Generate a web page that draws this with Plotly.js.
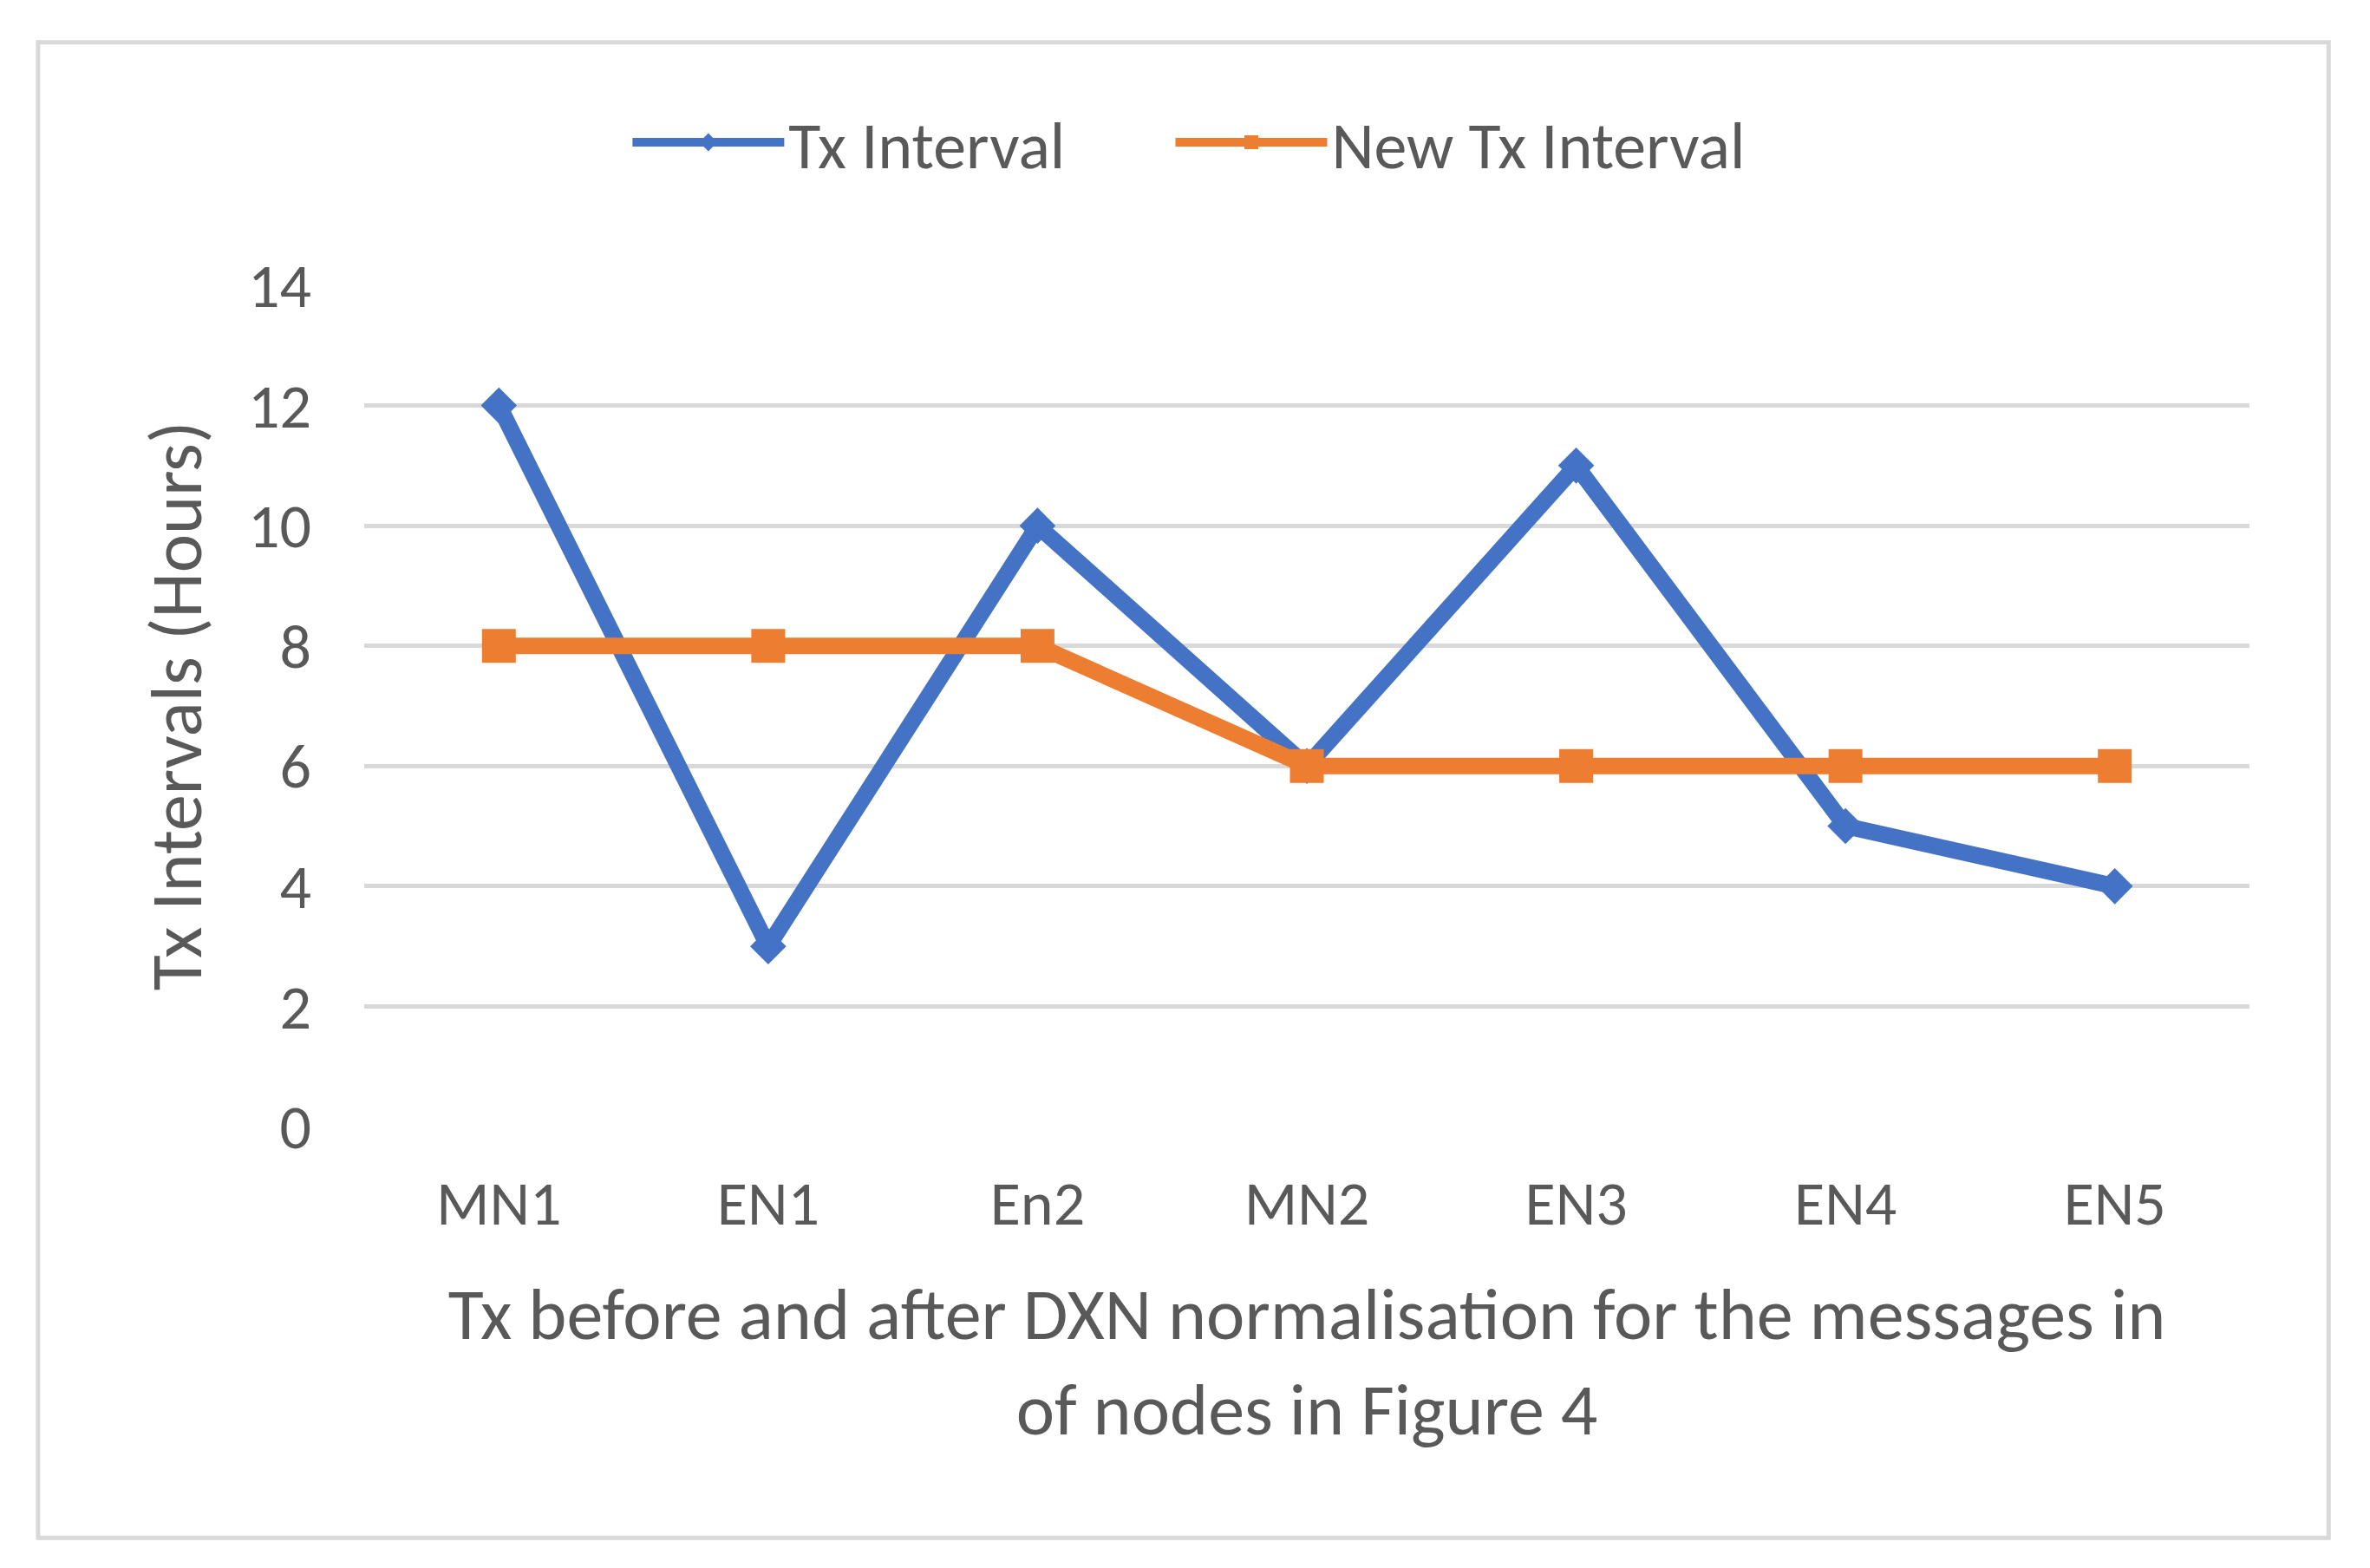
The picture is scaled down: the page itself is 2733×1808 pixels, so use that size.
<!DOCTYPE html>
<html>
<head>
<meta charset="utf-8">
<script src="https://cdn.plot.ly/plotly-3.0.1.min.js"></script>
<style>
html,body{margin:0;padding:0;background:#fff;}
#chart{width:2733px;height:1808px;}
</style>
</head>
<body>
<div id="chart"></div>
<script>
const categories = ["MN1", "EN1", "En2", "MN2", "EN3", "EN4", "EN5"];
const txInterval = [12, 3, 10, 6, 11, 5, 4];
const newTxInterval = [8, 8, 8, 6, 6, 6, 6];
const yTicks = [0, 2, 4, 6, 8, 10, 12, 14];
const seriesNames = ["Tx Interval", "New Tx Interval"];
const xTitle = "Tx before and after DXN normalisation for the messages in<br>of nodes in Figure 4";
const yTitle = "Tx Intervals (Hours)";

const FONT = "Carlito, Calibri, 'Liberation Sans Narrow', 'Open Sans', sans-serif";
const GREY = "#595959";

const traces = [
  {
    x: categories, y: txInterval, name: seriesNames[0], type: "scatter", mode: "lines+markers",
    line: {color: "#4472C4", width: 19},
    marker: {symbol: "diamond", size: 32, color: "#4472C4"},
    legend: "legend"
  },
  {
    x: categories, y: newTxInterval, name: seriesNames[1], type: "scatter", mode: "lines+markers",
    line: {color: "#ED7D31", width: 19},
    marker: {symbol: "square", size: 39, color: "#ED7D31"},
    legend: "legend2"
  }
];

const legendCommon = {
  orientation: "h", y: 1.17, yanchor: "middle", xanchor: "left",
  font: {family: FONT, size: 76, color: GREY}, itemwidth: 175, bgcolor: "rgba(0,0,0,0)"
};

const layout = {
  width: 2733, height: 1808,
  paper_bgcolor: "#ffffff", plot_bgcolor: "#ffffff",
  font: {family: FONT, color: GREY, size: 72},
  margin: {l: 420, r: 139, t: 329, b: 509, autoexpand: false},
  showlegend: true,
  legend: Object.assign({}, legendCommon, {x: 0.14}),
  legend2: Object.assign({}, legendCommon, {x: 0.428}),
  xaxis: {
    type: "category", range: [-0.5, 6.5], showgrid: false, zeroline: false, showline: false,
    ticks: "", ticklabelstandoff: 40, tickfont: {family: FONT, size: 72, color: GREY},
    title: {text: xTitle, font: {family: FONT, size: 84, color: GREY}, standoff: 55},
    automargin: false
  },
  yaxis: {
    range: [0, 14], tickvals: yTicks, showgrid: true, gridcolor: "#d9d9d9", gridwidth: 5,
    zeroline: false, showline: false, ticks: "", ticklabelstandoff: 60,
    tickfont: {family: FONT, size: 72, color: GREY},
    title: {text: yTitle, font: {family: FONT, size: 84, color: GREY}, standoff: 25},
    automargin: false
  },
  shapes: [{
    type: "rect", xref: "paper", yref: "paper", x0: -0.173, x1: 1.042, y0: -0.489, y1: 1.289,
    line: {color: "#d9d9d9", width: 5}, fillcolor: "rgba(0,0,0,0)", layer: "below"
  }]
};

Plotly.newPlot("chart", traces, layout, {staticPlot: true, displayModeBar: false});
</script>
</body>
</html>
